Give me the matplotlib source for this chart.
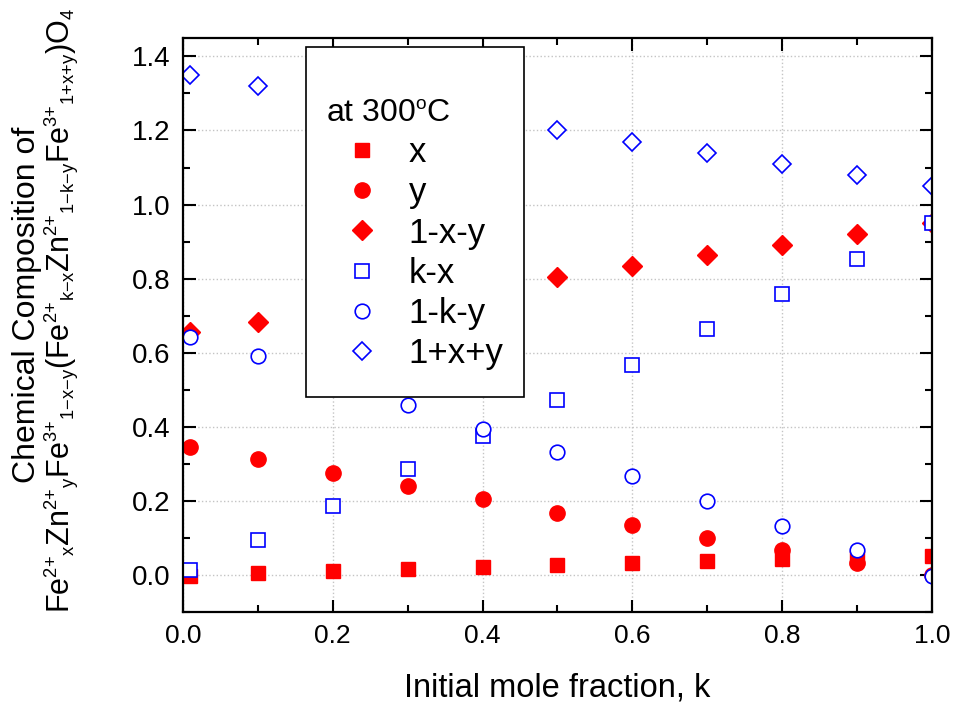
import matplotlib
matplotlib.use('Agg')
import matplotlib.pyplot as plt
import matplotlib._mathtext as mathtext_core
from matplotlib.ticker import MultipleLocator, FormatStrFormatter
from matplotlib.patches import Rectangle

plt.rcParams['font.family'] = ['Liberation Sans', 'DejaVu Sans']
plt.rcParams['mathtext.default'] = 'regular'
# Origin-style sub/superscripts are a bit smaller than mathtext's default
mathtext_core.SHRINK_FACTOR = 0.6

# initial mole fraction k
k = [0.01, 0.1, 0.2, 0.3, 0.4, 0.5, 0.6, 0.7, 0.8, 0.9, 1.0]

# values (points behind the legend estimated)
x_val   = [-0.003, 0.005, 0.010, 0.015, 0.021, 0.027, 0.032, 0.037, 0.042, 0.047, 0.051]
y_val   = [0.345, 0.313, 0.276, 0.240, 0.205, 0.168, 0.134, 0.099, 0.066, 0.032, 0.000]
oxy_val = [0.655, 0.682, 0.714, 0.744, 0.773, 0.805, 0.834, 0.863, 0.892, 0.921, 0.949]
kx_val  = [0.012, 0.095, 0.187, 0.286, 0.376, 0.473, 0.568, 0.663, 0.758, 0.853, 0.949]
oky_val = [0.642, 0.590, 0.524, 0.459, 0.395, 0.331, 0.266, 0.200, 0.133, 0.068, -0.003]
pxy_val = [1.351, 1.321, 1.286, 1.256, 1.227, 1.201, 1.170, 1.140, 1.110, 1.080, 1.050]

labels = ['x', 'y', '1-x-y', 'k-x', '1-k-y', '1+x+y']
xticks = [0.0, 0.2, 0.4, 0.6, 0.8, 1.0]
xtick_labels = ['0.0', '0.2', '0.4', '0.6', '0.8', '1.0']

red = '#ff0000'
blue = '#0000ff'

fig = plt.figure(figsize=(9.55, 7.07), dpi=100)
ax = fig.add_axes([0.1916, 0.1344, 0.7843, 0.812])

h1, = ax.plot(k, x_val, 's', color=red, ms=10, mec=red)
h2, = ax.plot(k, y_val, 'o', color=red, ms=11, mec=red)
h3, = ax.plot(k, oxy_val, 'D', color=red, ms=10, mec=red)
h4, = ax.plot(k, kx_val, 's', mfc='white', mec=blue, mew=1.2, ms=9.5)
h5, = ax.plot(k, oky_val, 'o', mfc='white', mec=blue, mew=1.2, ms=10.5)
h6, = ax.plot(k, pxy_val, 'D', mfc='white', mec=blue, mew=1.2, ms=9.5)

ax.set_xlim(0.0, 1.0)
ax.set_ylim(-0.1, 1.45)
ax.set_xticks(xticks, labels=xtick_labels, fontsize=19)
ax.xaxis.set_minor_locator(MultipleLocator(0.1))
ax.yaxis.set_major_locator(MultipleLocator(0.2))
ax.yaxis.set_minor_locator(MultipleLocator(0.1))
ax.yaxis.set_major_formatter(FormatStrFormatter('%.1f'))

ax.tick_params(which='both', direction='in', top=True, right=True, width=1.5)
ax.tick_params(which='major', length=9, pad=9)
ax.tick_params(which='minor', length=5)
ax.tick_params(axis='y', labelsize=20)
for s in ax.spines.values():
    s.set_linewidth(1.6)

ax.grid(True, which='major', linestyle=':', color='#c4c4c4', lw=1)
ax.set_axisbelow(True)

ax.set_xlabel('Initial mole fraction, k', fontsize=23.5, labelpad=17)

# two-line y label, placed as separate texts
fig.text(27 / 955, 1 - 305 / 707, 'Chemical Composition of', rotation=90,
         ha='center', va='center', fontsize=23)
fig.text(61 / 955, 1 - 311 / 707,
         'Fe$^{2{+}}{}_{x}$Zn$^{2{+}}{}_{y}$Fe$^{3{+}}{}_{1{-}x{-}y}$'
         '(Fe$^{2{+}}{}_{k{-}x}$Zn$^{2{+}}{}_{1{-}k{-}y}$Fe$^{3{+}}{}_{1{+}x{+}y}$)O$_{4}$',
         rotation=90, ha='center', va='center', fontsize=22)

# legend frame drawn by hand so it covers the points behind it
ax.add_patch(Rectangle((0.164, 0.3746), 0.291, 0.6094, transform=ax.transAxes,
                       facecolor='white', edgecolor='black', lw=1.2, zorder=4))
leg = ax.legend([h1, h2, h3, h4, h5, h6], labels,
                title='at 300$^{o}$C', title_fontsize=23, fontsize=25,
                frameon=False, loc='upper left', bbox_to_anchor=(0.1915, 0.894),
                alignment='left', handlelength=2.07, handletextpad=0.3,
                labelspacing=0.21, borderaxespad=0, borderpad=0, numpoints=1)
leg.set_zorder(5)

fig.savefig('out.png', dpi=100)
